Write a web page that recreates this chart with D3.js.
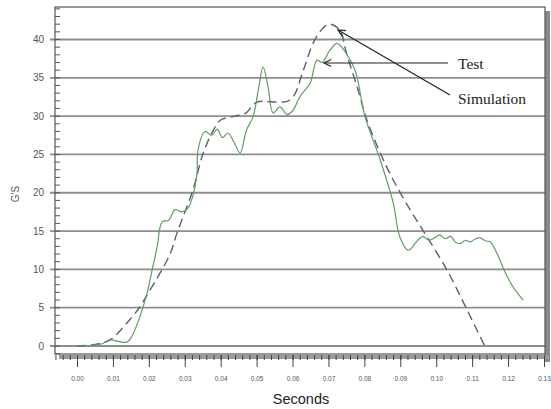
<!DOCTYPE html>
<html>
<head>
<meta charset="utf-8">
<script src="https://cdn.jsdelivr.net/npm/d3@7"></script>
<style>
  body { margin: 0; background: #fff; }
  svg { display: block; }
</style>
</head>
<body>
<svg width="551" height="409"></svg>
<script>
// test trace (seconds, G's)
var testT = [0.000, 0.004, 0.007, 0.0092, 0.0115, 0.0139, 0.0152, 0.0175, 0.0195, 0.0209, 0.0223, 0.0237, 0.0255,
  0.0273, 0.0292, 0.0309, 0.0322, 0.0334, 0.0337, 0.0356, 0.0375, 0.039, 0.0405, 0.042, 0.0438, 0.0454, 0.0472,
  0.049, 0.0505, 0.0518, 0.0532, 0.0546, 0.0565, 0.0585, 0.0602, 0.062, 0.0649, 0.0668, 0.0682, 0.0704, 0.0724,
  0.0745, 0.0774, 0.0802, 0.0844, 0.088, 0.0899, 0.0922, 0.0945, 0.0962, 0.098, 0.0995, 0.101, 0.1025, 0.104,
  0.1055, 0.1068, 0.108, 0.1095, 0.111, 0.1122, 0.1138, 0.115, 0.1169, 0.1192, 0.1214, 0.1228, 0.1242];
var testG = [0.0, 0.1, 0.3, 0.8, 0.6, 0.5, 1.2, 3.8, 6.9, 9.9, 12.9, 16.2, 16.4,
  17.8, 17.5, 18.0, 19.5, 22.6, 25.6, 28.0, 27.5, 28.3, 27.2, 27.8, 26.5, 25.2, 28.2,
  29.9, 33.5, 36.4, 33.8, 30.4, 31.2, 30.2, 30.8, 32.5, 34.3, 37.3, 37.0, 38.6, 39.5,
  38.5, 36.0, 29.9, 24.3, 18.7, 14.2, 12.5, 13.6, 14.3, 13.8, 14.1, 14.5, 14.0, 14.3,
  13.5, 13.4, 13.8, 13.6, 14.0, 14.1, 13.7, 13.6, 12.1, 9.6, 7.7, 6.8, 6.0];

// simulation trace (dashed)
var simT = [0.000, 0.005, 0.0092, 0.0139, 0.0175, 0.0198, 0.0231, 0.026, 0.0278, 0.0323, 0.035, 0.038, 0.040,
  0.044, 0.047, 0.050, 0.0593, 0.063, 0.0657, 0.0685, 0.0704, 0.0732, 0.075, 0.078, 0.0807, 0.0844, 0.088,
  0.0927, 0.0963, 0.103, 0.1086, 0.1135];
var simG = [0.0, 0.2, 0.8, 3.0, 5.1, 6.9, 9.5, 12.1, 14.7, 20.4, 25.0, 28.2, 29.5,
  30.0, 30.4, 31.8, 32.1, 36.0, 39.5, 41.5, 42.0, 41.2, 38.2, 33.8, 29.5, 25.2, 21.7,
  17.8, 15.1, 9.9, 4.7, 0.0];

var yTicks = [0, 5, 10, 15, 20, 25, 30, 35, 40];
var xTicks = [0.00, 0.01, 0.02, 0.03, 0.04, 0.05, 0.06, 0.07, 0.08, 0.09, 0.10, 0.11, 0.12, 0.13];

var svg = d3.select("svg");
var frame = {left: 55, right: 545, top: 7, bottom: 354};

var x = d3.scaleLinear().domain([0, 0.13]).range([77, 544]);
var y = d3.scaleLinear().domain([0, 40]).range([346, 39.5]);

// shadow of the frame
svg.append("rect")
    .attr("x", frame.right).attr("y", frame.top + 4)
    .attr("width", 5).attr("height", frame.bottom - frame.top + 4)
    .attr("fill", "#8a8a8a");
svg.append("rect")
    .attr("x", frame.left + 4).attr("y", frame.bottom + 1)
    .attr("width", frame.right - frame.left).attr("height", 4)
    .attr("fill", "#9a9a9a");

// gridlines
svg.append("g").selectAll("line")
    .data(yTicks)
    .enter().append("line")
    .attr("x1", 50).attr("x2", frame.right)
    .attr("y1", function(d) { return y(d); })
    .attr("y2", function(d) { return y(d); })
    .attr("stroke", "#8e8e8e")
    .attr("stroke-width", 1.8);

// frame
svg.append("rect")
    .attr("x", frame.left).attr("y", frame.top)
    .attr("width", frame.right - frame.left).attr("height", frame.bottom - frame.top)
    .attr("fill", "none")
    .attr("stroke", "#555")
    .attr("stroke-width", 1.2);

// minor ticks on the left, inside the frame
svg.append("g").selectAll("line")
    .data(d3.range(-1, 45, 1))
    .enter().append("line")
    .attr("x1", frame.left).attr("x2", frame.left + 5)
    .attr("y1", function(d) { return y(d); })
    .attr("y2", function(d) { return y(d); })
    .attr("stroke", "#555")
    .attr("stroke-width", 1);

// y labels
svg.append("g")
    .attr("font-family", "Liberation Sans, Arial, sans-serif")
    .attr("font-size", 10)
    .attr("fill", "#555")
    .attr("text-anchor", "end")
    .selectAll("text")
    .data(yTicks)
    .enter().append("text")
    .attr("x", 44)
    .attr("y", function(d) { return y(d); })
    .attr("dy", "0.35em")
    .text(function(d) { return d; });

svg.append("text")
    .attr("transform", "translate(19,194) rotate(-90)")
    .attr("font-family", "Liberation Sans, Arial, sans-serif")
    .attr("font-size", 10)
    .attr("fill", "#555")
    .attr("text-anchor", "middle")
    .text("G'S");

// bottom axis: minor and major ticks
var minor = d3.axisBottom(x)
    .tickValues(d3.range(-0.006, 0.1301, 0.002))
    .tickSize(5)
    .tickFormat("");
svg.append("g")
    .attr("transform", "translate(0," + (frame.bottom + 1) + ")")
    .call(minor)
    .call(function(g) { g.select(".domain").remove(); })
    .selectAll("line").attr("stroke", "#444");

var major = d3.axisBottom(x)
    .tickValues(xTicks)
    .tickSize(12)
    .tickPadding(9)
    .tickFormat(d3.format(".2f"));
svg.append("g")
    .attr("transform", "translate(0," + (frame.bottom + 1) + ")")
    .call(major)
    .call(function(g) { g.select(".domain").remove(); })
    .call(function(g) {
        g.selectAll("line").attr("stroke", "#444");
        g.selectAll("text")
            .attr("font-family", "Liberation Sans, Arial, sans-serif")
            .attr("font-size", 6.5)
            .attr("fill", "#555");
    });

svg.append("text")
    .attr("x", 301).attr("y", 404)
    .attr("font-family", "Liberation Sans, Arial, sans-serif")
    .attr("font-size", 14.5)
    .attr("fill", "#222")
    .attr("text-anchor", "middle")
    .text("Seconds");

// curves
var line = d3.line()
    .x(function(d) { return x(d[0]); })
    .y(function(d) { return y(d[1]); })
    .curve(d3.curveCatmullRom.alpha(0.5));

svg.append("path")
    .datum(d3.zip(simT, simG))
    .attr("d", line)
    .attr("fill", "none")
    .attr("stroke", "#5d5d78")
    .attr("stroke-width", 1.4)
    .attr("stroke-dasharray", "9,5");

svg.append("path")
    .datum(d3.zip(testT, testG))
    .attr("d", line)
    .attr("fill", "none")
    .attr("stroke", "#5f9e62")
    .attr("stroke-width", 1.2);

// annotations
function arrow(x1, y1, x2, y2) {
    var a = Math.atan2(y1 - y2, x1 - x2), L = 8, w = 0.45;
    svg.append("line")
        .attr("x1", x1).attr("y1", y1).attr("x2", x2).attr("y2", y2)
        .attr("stroke", "#222").attr("stroke-width", 1.2);
    svg.append("path")
        .attr("d", "M" + (x2 + L * Math.cos(a + w)) + "," + (y2 + L * Math.sin(a + w)) +
            "L" + x2 + "," + y2 +
            "L" + (x2 + L * Math.cos(a - w)) + "," + (y2 + L * Math.sin(a - w)))
        .attr("fill", "none").attr("stroke", "#222").attr("stroke-width", 1.2);
}
arrow(448, 63, 324, 63);
arrow(450, 95, 338, 30);

svg.append("g")
    .attr("font-family", "Liberation Serif, Times New Roman, serif")
    .attr("font-size", 15.5)
    .attr("fill", "#222")
    .selectAll("text")
    .data([["Test", 458, 69], ["Simulation", 458, 104]])
    .enter().append("text")
    .attr("x", function(d) { return d[1]; })
    .attr("y", function(d) { return d[2]; })
    .text(function(d) { return d[0]; });
</script>
</body>
</html>
